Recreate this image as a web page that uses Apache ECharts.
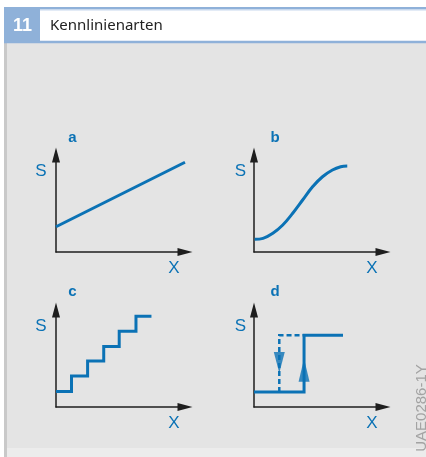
<!DOCTYPE html>
<html>
<head>
<meta charset="utf-8">
<script src="https://cdn.jsdelivr.net/npm/echarts@6/dist/echarts.min.js"></script>
<style>
  html, body { margin: 0; padding: 0; background: #fff; }
  #chart { width: 426px; height: 457px; }
</style>
</head>
<body>
<div id="chart"></div>
<script>
// figure texts
const figNumber = '11'
const figTitle = 'Kennlinienarten'
const figCode = 'UAE0286-1Y'
const panelLetters = ['a', 'b', 'c', 'd']
const yName = 'S'
const xName = 'X'

// a: linear characteristic
const linearLine = [[0, 2.6], [10, 9.25]]
// b: S-shaped characteristic
const sCurve = [
  [0.05, 1.31], [0.7, 1.41], [1.46, 1.93], [2.23, 2.78], [3.0, 3.99], [3.77, 5.36],
  [4.54, 6.73], [5.31, 7.76], [6.08, 8.45], [6.72, 8.79], [7.23, 8.87]
]
// c: stepped characteristic
const stepLine = [[0, 1.6], [1.2, 3.2], [2.45, 4.75], [3.7, 6.25], [4.9, 7.8], [6.2, 9.35], [7.4, 9.35]]
// d: hysteresis
const hystSolid = [[0, 1.55], [3.88, 1.55], [3.88, 7.4], [6.9, 7.4]]
const hystDashed = [[1.96, 1.55], [1.96, 7.4], [3.88, 7.4]]
const arrowUp = [[3.88, 3.8]]
const arrowDown = [[1.96, 4.6]]

const BLUE = '#0b72b5'
const AXIS = '#1e1e1e'
const HEAD = '#8fb1d9'

const chart = echarts.init(document.getElementById('chart'))

// grid placement of the four small diagrams
const panels = [
  { left: 56, top: 155, letterDx: 16.5, sDx: -15.2 },
  { left: 254, top: 155, letterDx: 21, sDx: -13.5 },
  { left: 56, top: 310, letterDx: 16.5, sDx: -15.2 },
  { left: 254, top: 310, letterDx: 21, sDx: -13.5 }
]
const W = 129
const H = 97

const axisBase = (i) => ({
  gridIndex: i,
  type: 'value',
  min: 0,
  max: 10,
  axisLine: {
    show: true,
    onZero: false,
    symbol: ['none', 'triangle'],
    symbolSize: [8, 15],
    lineStyle: { color: AXIS, width: 1.5 }
  },
  axisTick: { show: false },
  axisLabel: { show: false },
  splitLine: { show: false }
})

const lineSeries = (i, data, extra) => Object.assign({
  type: 'line',
  xAxisIndex: i,
  yAxisIndex: i,
  data: data,
  symbol: 'none',
  silent: true,
  z: 5,
  lineStyle: { color: BLUE, width: 3, join: 'miter', cap: 'butt' }
}, extra || {})

const arrowSeries = (data, rotate, size) => ({
  type: 'scatter',
  xAxisIndex: 3,
  yAxisIndex: 3,
  data: data,
  symbol: 'triangle',
  symbolSize: size,
  symbolRotate: rotate,
  silent: true,
  z: 6,
  itemStyle: { color: BLUE }
})

const textEl = (x, y, text, font, fill, extra) => Object.assign({
  type: 'text',
  x: x,
  y: y,
  silent: true,
  style: { text: text, font: font, fill: fill, align: 'center', verticalAlign: 'middle' }
}, extra || {})

const graphics = [
  // frame
  { type: 'rect', shape: { x: 7, y: 43, width: 419, height: 405 }, style: { fill: '#e4e4e4' }, z: -10 },
  { type: 'rect', shape: { x: 7, y: 448, width: 419, height: 9 }, style: { fill: '#ececec' }, z: -10 },
  { type: 'rect', shape: { x: 4, y: 43, width: 3, height: 414 }, style: { fill: '#c9c9c9' }, z: -10 },
  // header
  { type: 'rect', shape: { x: 4, y: 7, width: 422, height: 2.5 }, style: { fill: HEAD }, z: -9 },
  { type: 'rect', shape: { x: 4, y: 9.5, width: 422, height: 1 }, style: { fill: '#c7d8ee' }, z: -9 },
  { type: 'rect', shape: { x: 4, y: 40.8, width: 422, height: 2.5 }, style: { fill: HEAD }, z: -9 },
  { type: 'rect', shape: { x: 4, y: 7, width: 36, height: 36 }, style: { fill: HEAD }, z: -8 },
  textEl(22.5, 26.5, figNumber, 'bold 18px "Liberation Sans"', '#ffffff'),
  textEl(50, 26, figTitle, '15px "Noto Sans"', '#222222', {
    style: { text: figTitle, font: '15px "Noto Sans"', fill: '#222222', align: 'left', verticalAlign: 'middle' }
  }),
  textEl(422, 408, figCode, '15px "Liberation Sans"', '#a3a3a3', { rotation: Math.PI / 2 })
]

panels.forEach((p, i) => {
  const lf = '17px "Liberation Sans"'
  graphics.push(textEl(p.left + p.letterDx, p.top - (i < 2 ? 17 : 18), panelLetters[i], 'bold 15px "Liberation Sans"', BLUE))
  graphics.push(textEl(p.left + p.sDx, p.top + 16, yName, lf, BLUE))
  graphics.push(textEl(p.left + 118, p.top + H + 16, xName, lf, BLUE))
})

const option = {
  animation: false,
  backgroundColor: '#ffffff',
  grid: panels.map(p => ({ left: p.left, top: p.top, width: W, height: H })),
  xAxis: panels.map((p, i) => axisBase(i)),
  yAxis: panels.map((p, i) => axisBase(i)),
  graphic: graphics,
  series: [
    lineSeries(0, linearLine),
    lineSeries(1, sCurve, { smooth: 0.4 }),
    lineSeries(2, stepLine, { step: 'end' }),
    lineSeries(3, hystDashed, { lineStyle: { color: BLUE, width: 2.5, type: [5, 3], join: 'miter' } }),
    lineSeries(3, hystSolid),
    arrowSeries(arrowUp, 0, [11, 23]),
    arrowSeries(arrowDown, 180, [11, 21])
  ]
}

chart.setOption(option)
</script>
</body>
</html>
